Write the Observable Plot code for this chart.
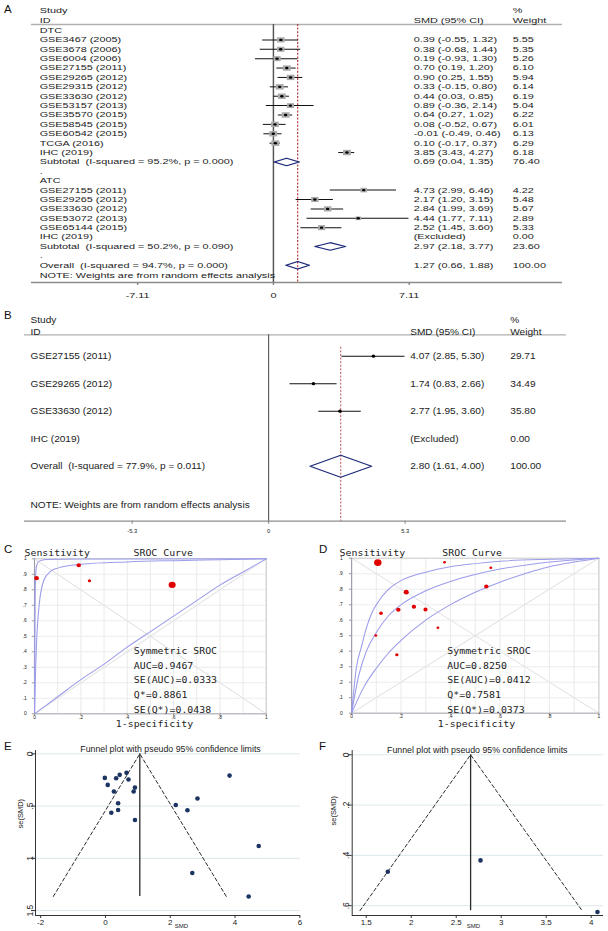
<!DOCTYPE html>
<html><head><meta charset="utf-8">
<script src="https://cdn.jsdelivr.net/npm/d3@7"></script>
<script src="https://cdn.jsdelivr.net/npm/@observablehq/plot@0.6"></script>
<style>
html,body{margin:0;padding:0;background:#fff;}
#fig{position:relative;width:608px;height:931px;overflow:hidden;background:#fff;}
.panel{position:absolute;}
.lab{position:absolute;font:11.5px "Liberation Sans",Arial,sans-serif;color:#111;line-height:13px;}
</style></head><body><div id="fig"></div>
<script>
// ---------------- Panel A : forest plot (DTC / ATC) ----------------
const aGroups = ["DTC", "ATC"];
const aDtcStudies = ["GSE3467 (2005)", "GSE3678 (2006)", "GSE6004 (2006)", "GSE27155 (2011)", "GSE29265 (2012)", "GSE29315 (2012)", "GSE33630 (2012)", "GSE53157 (2013)", "GSE35570 (2015)", "GSE58545 (2015)", "GSE60542 (2015)", "TCGA (2016)", "IHC (2019)"];
const aDtcSmd = [0.39, 0.38, 0.19, 0.70, 0.90, 0.33, 0.44, 0.89, 0.64, 0.08, -0.01, 0.10, 3.85];
const aDtcLo  = [-0.55, -0.68, -0.93, 0.19, 0.25, -0.15, 0.03, -0.36, 0.27, -0.52, -0.49, -0.17, 3.43];
const aDtcHi  = [1.32, 1.44, 1.30, 1.20, 1.55, 0.80, 0.85, 2.14, 1.02, 0.67, 0.46, 0.37, 4.27];
const aDtcWeight = [5.55, 5.35, 5.26, 6.10, 5.94, 6.14, 6.19, 5.04, 6.22, 6.01, 6.13, 6.29, 6.18];
const aAtcStudies = ["GSE27155 (2011)", "GSE29265 (2012)", "GSE33630 (2012)", "GSE53072 (2013)", "GSE65144 (2015)", "IHC (2019)"];
const aAtcSmd = [4.73, 2.17, 2.84, 4.44, 2.52, null];
const aAtcLo  = [2.99, 1.20, 1.99, 1.77, 1.45, null];
const aAtcHi  = [6.46, 3.15, 3.69, 7.11, 3.60, null];
const aAtcWeight = [4.22, 5.48, 5.67, 2.89, 5.33, 0.00];
const aSubLabels = ["Subtotal\u00a0 (I-squared = 95.2%, p = 0.000)", "Subtotal\u00a0 (I-squared = 50.2%, p = 0.090)"];
const aSubSmd = [0.69, 2.97];
const aSubLo = [0.04, 2.18];
const aSubHi = [1.35, 3.77];
const aSubWeight = [76.40, 23.60];
const aOverallLabel = "Overall\u00a0 (I-squared = 94.7%, p = 0.000)";
const aOverall = [1.27, 0.66, 1.88];
const aOverallWeight = 100.00;
const aTicks = [-7.11, 0, 7.11];

// ---------------- Panel B : forest plot ----------------
const bStudies = ["GSE27155 (2011)", "GSE29265 (2012)", "GSE33630 (2012)", "IHC (2019)"];
const bSmd = [4.07, 1.74, 2.77, null];
const bLo = [2.85, 0.83, 1.95, null];
const bHi = [5.30, 2.66, 3.60, null];
const bWeight = [29.71, 34.49, 35.80, 0.00];
const bOverallLabel = "Overall\u00a0 (I-squared = 77.9%, p = 0.011)";
const bOverall = [2.80, 1.61, 4.00];
const bOverallWeight = 100.00;
const bTicks = [-5.3, 0, 5.3];

const noteText = "NOTE: Weights are from random effects analysis";

// ---------------- Panel C : SROC ----------------
const cSpec = [0.009, 0.191, 0.237, 0.594];
const cSens = [0.875, 0.959, 0.858, 0.832];
const cSize = [2.1, 2.0, 1.5, 3.2];
const cSrocX = [0, 0.005, 0.01, 0.02, 0.04, 0.07, 0.1, 0.2, 0.4, 0.6, 0.8, 1];
const cSrocY = [0, 0.3, 0.5, 0.7, 0.86, 0.92, 0.94, 0.965, 0.98, 0.988, 0.994, 1];
const cUpperX = [0, 0.002, 0.005, 0.01, 0.02, 0.05, 0.2, 1];
const cUpperY = [0, 0.6, 0.9, 0.96, 0.985, 0.995, 0.998, 1];
const cLowerX = [0, 0.1, 0.2, 0.3, 0.4, 0.5, 0.6, 0.7, 0.8, 0.9, 1];
const cLowerY = [0, 0.11, 0.22, 0.32, 0.43, 0.53, 0.63, 0.73, 0.83, 0.915, 1];
const cStats = ["Symmetric SROC", "AUC=0.9467", "SE(AUC)=0.0333", "Q*=0.8861", "SE(Q*)=0.0438"];

// ---------------- Panel D : SROC ----------------
const dSpec = [0.106, 0.376, 0.563, 0.545, 0.221, 0.119, 0.189, 0.252, 0.299, 0.349, 0.098, 0.183];
const dSens = [0.972, 0.974, 0.938, 0.817, 0.781, 0.645, 0.667, 0.686, 0.669, 0.551, 0.501, 0.377];
const dSize = [3.4, 1.3, 1.3, 2.0, 2.3, 1.7, 2.0, 2.0, 1.9, 1.3, 1.3, 1.5];
const dUpperX = [0, 0.02, 0.04, 0.06, 0.08, 0.1, 0.15, 0.2, 0.3, 0.4, 0.5, 0.6, 0.8, 1];
const dUpperY = [0, 0.3, 0.43, 0.55, 0.64, 0.7, 0.8, 0.855, 0.91, 0.945, 0.965, 0.98, 0.993, 1];
const dSrocX = [0, 0.03, 0.06, 0.1, 0.15, 0.2, 0.3, 0.4, 0.5, 0.6, 0.7, 0.8, 1];
const dSrocY = [0, 0.25, 0.4, 0.52, 0.63, 0.7, 0.79, 0.85, 0.895, 0.93, 0.955, 0.975, 1];
const dLowerX = [0, 0.05, 0.1, 0.15, 0.2, 0.3, 0.4, 0.5, 0.6, 0.7, 0.8, 0.9, 1];
const dLowerY = [0, 0.17, 0.29, 0.39, 0.47, 0.6, 0.7, 0.78, 0.845, 0.9, 0.945, 0.975, 1];
const dStats = ["Symmetric SROC", "AUC=0.8250", "SE(AUC)=0.0412", "Q*=0.7581", "SE(Q*)=0.0373"];

const rocTicks = [0, 0.1, 0.2, 0.3, 0.4, 0.5, 0.6, 0.7, 0.8, 0.9, 1];
const rocXTicks = [0, 0.2, 0.4, 0.6, 0.8, 1];
const rocDiagonals = [{x1: 0, y1: 1, x2: 1, y2: 0}, {x1: 0, y1: 0, x2: 1, y2: 1}];

// ---------------- Panel E : funnel ----------------
const funnelTitle = "Funnel plot with pseudo 95% confidence limits";
const eSmd = [-0.02, 0.07, 0.33, 0.44, 0.65, 0.71, 0.91, 0.87, 0.26, 0.39, 0.39, 0.18, 0.91, 2.17, 2.53, 2.84, 3.83, 4.73, 2.68, 4.42];
const eSe  = [0.23, 0.297, 0.234, 0.201, 0.182, 0.246, 0.323, 0.361, 0.361, 0.473, 0.537, 0.563, 0.633, 0.49, 0.54, 0.428, 0.208, 0.882, 1.14, 1.365];
const eFunnelSmd = [-1.61, 1.06, 3.73];
const eFunnelSe = [1.365, 0, 1.365];
const eXTicks = [-2, 0, 2, 4, 6];
const eYTicks = [0, 0.5, 1, 1.5];

// ---------------- Panel F : funnel ----------------
const fSmd = [1.74, 2.77, 4.07];
const fSe = [0.465, 0.42, 0.625];
const fFunnelSmd = [1.43, 2.66, 3.90];
const fFunnelSe = [0.62, 0, 0.62];
const fXTicks = [1.5, 2, 2.5, 3, 3.5, 4];
const fYTicks = [0, 0.2, 0.4, 0.6];

// ================= helpers =================
const SANS = '"Liberation Sans", Arial, sans-serif';
const MONO = '"DejaVu Sans Mono", monospace';
const fig = document.getElementById("fig");
const f2 = d => d.toFixed(2);
const dotFmt = d => d === 0 ? "0" : String(d).replace(/^0\./, ".");

function stretch(svg, s) {
  const w = +svg.getAttribute("width"), h = +svg.getAttribute("height");
  svg.setAttribute("viewBox", `0 0 ${w} ${h}`);
  svg.setAttribute("preserveAspectRatio", "none");
  svg.setAttribute("width", w * s);
  svg.style.width = (w * s) + "px";
  svg.style.height = h + "px";
  svg.style.maxWidth = "none";
  return svg;
}
function place(el, left, top) {
  const d = document.createElement("div");
  d.className = "panel"; d.style.left = left + "px"; d.style.top = top + "px";
  d.appendChild(el); fig.appendChild(d);
}
function label(t, left, top) {
  const d = document.createElement("div");
  d.className = "lab"; d.textContent = t; d.style.left = left + "px"; d.style.top = top + "px";
  fig.appendChild(d);
}
function studyRow(row, label, smd, lo, hi, weight) {
  return {row, label, smd, lo, hi, weight, kind: "study",
    value: smd == null ? "(Excluded)" : `${f2(smd)} (${f2(lo)}, ${f2(hi)})`};
}
function diamondRow(row, label, smd, lo, hi, weight) {
  return {row, label, smd, lo, hi, weight, kind: "diamond", value: `${f2(smd)} (${f2(lo)}, ${f2(hi)})`};
}

function forest(c) {
  const rows = c.rows;
  const studies = rows.filter(d => d.kind === "study" && d.smd != null);
  const diamonds = rows.filter(d => d.kind === "diamond").flatMap((d, k) => [
    {id: k, x: d.lo, y: d.row}, {id: k, x: d.smd, y: d.row - c.diamondH},
    {id: k, x: d.hi, y: d.row}, {id: k, x: d.smd, y: d.row + c.diamondH}, {id: k, x: d.lo, y: d.row}]);
  const yBottom = c.yDomain[1];
  const plotOpts = {
    width: c.W, height: c.H, marginLeft: c.mL, marginRight: c.mR, marginTop: 0, marginBottom: c.mB,
    style: {fontFamily: SANS, fontSize: c.fontSize + "px", color: "#222", background: "transparent", overflow: "visible"},
    x: {domain: c.xDomain, label: null},
    y: {domain: c.yDomain, reverse: true, axis: null, label: null},
    marks: [
      Plot.ruleY([c.hdrRow], {stroke: "#b0b0b0", strokeWidth: 1.3}),
      Plot.ruleY([yBottom], {stroke: "#8c8c8c", strokeWidth: 1.3}),
      Plot.ruleX([0], {y1: c.hdrRow, y2: yBottom, stroke: "#555", strokeWidth: 1}),
      Plot.ruleX([c.overall], {y1: c.redY1, y2: yBottom, stroke: "#b03535", strokeWidth: 0.8, strokeDasharray: "2,1.6"}),
      Plot.ruleY(studies, {y: "row", x1: "lo", x2: "hi", stroke: "#111", strokeWidth: 1}),
      c.boxes ? Plot.dot(studies, {x: "smd", y: "row", r: "weight", symbol: "square", fill: "#a9a9a9"}) : null,
      Plot.dot(studies, {x: "smd", y: "row", r: c.dotR, fill: "#000"}),
      Plot.line(diamonds, {x: "x", y: "y", z: "id", stroke: "#1f2b7b", strokeWidth: 1.2}),
      Plot.text(rows, {y: "row", text: "label", frameAnchor: "left", dx: c.labelDx, textAnchor: "start"}),
      Plot.text(rows.filter(d => d.value), {y: "row", text: "value", frameAnchor: "left", dx: c.valueDx, textAnchor: "start"}),
      Plot.text(rows.filter(d => d.weight != null), {y: "row", text: d => f2(d.weight), frameAnchor: "left", dx: c.weightDx, textAnchor: "start"}),
      Plot.text(["Study"], {frameAnchor: "top-left", dx: c.labelDx, dy: c.studyY, textAnchor: "start"}),
      Plot.text(["ID"], {frameAnchor: "top-left", dx: c.labelDx, dy: c.idY, textAnchor: "start"}),
      Plot.text(["SMD (95% CI)"], {frameAnchor: "top-left", dx: c.valueDx, dy: c.idY, textAnchor: "start"}),
      Plot.text(["%"], {frameAnchor: "top-left", dx: c.weightDx, dy: c.studyY, textAnchor: "start"}),
      Plot.text(["Weight"], {frameAnchor: "top-left", dx: c.weightDx, dy: c.idY, textAnchor: "start"}),
      Plot.text([noteText], {frameAnchor: "bottom-left", dx: c.labelDx, dy: c.noteDy, textAnchor: "start"}),
      Plot.axisX({ticks: c.ticks, tickFormat: d => String(d), tickSize: 3, tickPadding: c.tickPad, fontSize: c.tickFont, stroke: "#888", label: null})
    ]
  };
  if (c.boxes) plotOpts.r = {type: "sqrt", domain: [0, c.rMaxW], range: [0, c.rMax]};
  return stretch(Plot.plot(plotOpts), c.s);
}

function sroc(c) {
  const curves = c.curves.flatMap(([xs, ys], k) => xs.map((x, i) => ({id: k, x, y: ys[i]})));
  const pts = c.spec.map((x, i) => ({x, y: c.sens[i], r: c.size[i]}));
  const svg = Plot.plot({
    width: c.W, height: c.H, marginLeft: c.mL, marginRight: c.mR, marginTop: c.mT, marginBottom: c.mB,
    style: {fontFamily: MONO, fontSize: "9px", color: "#222", background: "transparent", overflow: "visible"},
    x: {domain: [0, 1], label: null}, y: {domain: [0, 1], label: null}, r: {type: "identity"},
    marks: [
      Plot.gridX(rocTicks, {stroke: "#ececec", strokeOpacity: 1}),
      Plot.gridY(rocTicks, {stroke: "#ececec", strokeOpacity: 1}),
      Plot.link(rocDiagonals, {x1: "x1", y1: "y1", x2: "x2", y2: "y2", stroke: "#e2e2e2"}),
      Plot.frame({stroke: "#cfcfcf"}),
      Plot.ruleX([0], {stroke: "#9c9cb0"}),
      Plot.ruleY([0], {stroke: "#b4b4c0"}),
      Plot.line(curves, {x: "x", y: "y", z: "id", stroke: "#9d9deb", strokeWidth: 1, curve: "monotone-x"}),
      Plot.dot(pts, {x: "x", y: "y", r: "r", fill: "#e00000"}),
      Plot.axisX({ticks: rocXTicks, tickFormat: dotFmt, fontSize: 4.5, fontFamily: SANS, tickSize: 2, tickPadding: 0, stroke: "#999", label: null}),
      Plot.axisY({ticks: rocTicks, tickFormat: dotFmt, fontSize: 4.5, fontFamily: SANS, tickSize: 2, tickPadding: c.yTickPad, stroke: "#999", label: null}),
      Plot.text(["Sensitivity"], {frameAnchor: "top-left", dx: c.sensDx, dy: c.titleDy, textAnchor: "start"}),
      Plot.text(["SROC Curve"], {frameAnchor: "top-left", dx: c.srocDx, dy: c.titleDy, textAnchor: "start"}),
      Plot.text(["1-specificity"], {frameAnchor: "bottom", dx: c.specDx, dy: c.specDy}),
      ...c.stats.map((t, i) => Plot.text([t], {frameAnchor: "top-left", dx: c.statsDx, dy: c.statsDy + i * 14.6, textAnchor: "start"}))
    ]
  });
  return stretch(svg, c.s);
}

function funnel(c) {
  const pts = c.smd.map((x, i) => ({smd: x, se: c.se[i]}));
  const lines = c.fSmd.map((x, i) => ({smd: x, se: c.fSe[i]}));
  const center = c.fSmd[1], centerSe = c.fSe[0];
  return Plot.plot({
    width: c.W, height: c.H, marginLeft: c.mL, marginRight: c.mR, marginTop: c.mT, marginBottom: c.mB,
    style: {fontFamily: SANS, fontSize: "8.5px", color: "#222", background: "transparent", overflow: "visible"},
    x: {domain: c.xDomain, label: null}, y: {domain: c.yDomain, reverse: true, label: null},
    marks: [
      Plot.gridY(c.yTicks, {stroke: "#dce8ec", strokeOpacity: 1}),
      Plot.ruleX([c.xDomain[0]], {stroke: "#333"}),
      Plot.ruleY([c.yDomain[1]], {stroke: "#333"}),
      Plot.line(lines, {x: "smd", y: "se", stroke: "#2b2b2b", strokeDasharray: "3.5,2.5", strokeWidth: 1}),
      Plot.ruleX([center], {y1: 0, y2: centerSe, stroke: "#2b2b2b", strokeWidth: 1.3}),
      Plot.dot(pts, {x: "smd", y: "se", r: 2.3, fill: "#1c3461"}),
      Plot.axisX({ticks: c.xTicks, tickFormat: d => String(d), tickSize: 3, tickPadding: 1, fontSize: 8, stroke: "#333", label: null}),
      Plot.axisY({ticks: c.yTicks, tickFormat: dotFmt, tickRotate: -90, tickSize: 4, tickPadding: c.yTickPad, stroke: "#333", label: null}),
      Plot.text([funnelTitle], {frameAnchor: "top", dx: c.titleDx, dy: c.titleDy, fontSize: 8.8}),
      Plot.text(["se(SMD)"], {frameAnchor: "left", dx: c.seDx, dy: c.seDy, rotate: -90, fontSize: 7.5}),
      Plot.text(["SMD"], {frameAnchor: "bottom", dx: c.smdDx, dy: 12.8, fontSize: 6})
    ]
  });
}

// ================= build rows =================
const aRows = [];
let rr = 0;
[[aDtcStudies, aDtcSmd, aDtcLo, aDtcHi, aDtcWeight], [aAtcStudies, aAtcSmd, aAtcLo, aAtcHi, aAtcWeight]].forEach((g, gi) => {
  aRows.push({row: rr++, label: aGroups[gi], kind: "text"});
  g[0].forEach((s, i) => aRows.push(studyRow(rr++, s, g[1][i], g[2][i], g[3][i], g[4][i])));
  aRows.push(diamondRow(rr++, aSubLabels[gi], aSubSmd[gi], aSubLo[gi], aSubHi[gi], aSubWeight[gi]));
  aRows.push({row: rr++, label: ".", kind: "text"});
});
aRows.push(diamondRow(rr++, aOverallLabel, aOverall[0], aOverall[1], aOverall[2], aOverallWeight));

const bRows = bStudies.map((s, i) => studyRow(i, s, bSmd[i], bLo[i], bHi[i], bWeight[i]));
bRows.push(diamondRow(bStudies.length, bOverallLabel, bOverall[0], bOverall[1], bOverall[2], bOverallWeight));

// ================= render =================
place(forest({
  rows: aRows, W: 420, s: 608 / 420, H: 305, mL: 21.4, mR: 31.8, mB: 23,
  xDomain: [-12.66, 15.15], yDomain: [-3.195, 26.84], fontSize: 7.5,
  labelDx: 5.5, valueDx: 263.9, weightDx: 332.3, studyY: 7, idY: 17, hdrRow: -0.64,
  noteDy: -5, redY1: -0.64, diamondH: 0.4, ticks: aTicks, tickFont: 7.5, tickPad: 7,
  overall: aOverall[0], boxes: true, rMaxW: 6.29, rMax: 3.1, dotR: 1.2
}), 0, 0);

place(forest({
  rows: bRows, W: 553, s: 608 / 553, H: 235, mL: 21.8, mR: 38.2, mB: 19.3,
  xDomain: [-9.48, 11.57], yDomain: [-1.844, 6.0], fontSize: 9.2,
  labelDx: 5.5, valueDx: 350.8, weightDx: 441.8, studyY: 11, idY: 22.5, hdrRow: -0.778,
  noteDy: -13.4, redY1: -0.327, diamondH: 0.4, ticks: bTicks, tickFont: 5.2, tickPad: 5,
  overall: bOverall[0], boxes: false, dotR: 1.6
}), 0, 305);

place(sroc({
  W: 273, s: 300 / 273, H: 192, mL: 30.9, mR: 31.2, mT: 18.3, mB: 18.7,
  spec: cSpec, sens: cSens, size: cSize,
  curves: [[cUpperX, cUpperY], [cSrocX, cSrocY], [cLowerX, cLowerY]], stats: cStats,
  sensDx: -9.1, srocDx: 90.1, titleDy: -9.3, statsDx: 90.4, statsDy: 89, specDx: 3.7, specDy: 13.6, yTickPad: 5
}), 0, 540);

place(sroc({
  W: 280, s: 1.1, H: 192, mL: 46.4, mR: 8.8, mT: 17.7, mB: 19.3,
  spec: dSpec, sens: dSens, size: dSize,
  curves: [[dUpperX, dUpperY], [dSrocX, dSrocY], [dLowerX, dLowerY]], stats: dStats,
  sensDx: -10.9, srocDx: 82.5, titleDy: -8.9, statsDx: 87.0, statsDy: 89.6, specDx: 1.2, specDy: 13.5, yTickPad: 6
}), 300, 540);

place(funnel({
  W: 300, H: 196, mL: 35, mR: 0, mT: 15, mB: 16,
  xDomain: [-2.16, 6.02], yDomain: [-0.032, 1.547], xTicks: eXTicks, yTicks: eYTicks,
  smd: eSmd, se: eSe, fSmd: eFunnelSmd, fSe: eFunnelSe,
  titleDx: 2.5, titleDy: -4.3, seDx: -15, seDy: -4.5, smdDx: 13.5, yTickPad: -1.5
}), 0, 735);

place(funnel({
  W: 308, H: 196, mL: 51.7, mR: 5, mT: 15, mB: 16,
  xDomain: [1.344, 4.137], yDomain: [-0.017, 0.639], xTicks: fXTicks, yTicks: fYTicks,
  smd: fSmd, se: fSe, fSmd: fFunnelSmd, fSe: fFunnelSe,
  titleDx: -0.6, titleDy: -3.3, seDx: -18.4, seDy: -7.5, smdDx: -4.4, yTickPad: -1
}), 300, 735);

label("A", 4, 3);
label("B", 4, 309);
label("C", 4, 543);
label("D", 319, 543);
label("E", 4, 740);
label("F", 319, 740);
</script></body></html>
